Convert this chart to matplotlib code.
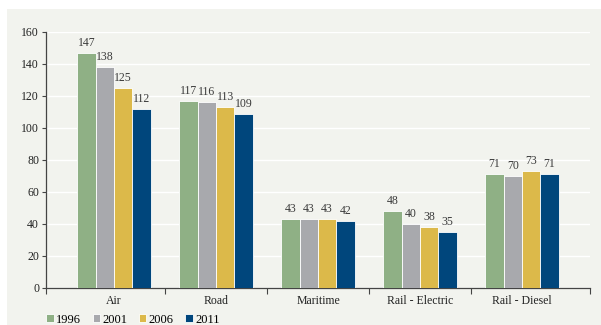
import numpy as np
import matplotlib
matplotlib.use("Agg")
import matplotlib.pyplot as plt
from matplotlib.patches import Rectangle

# data
categories = ["Air", "Road", "Maritime", "Rail - Electric", "Rail - Diesel"]
years = ["1996", "2001", "2006", "2011"]
v1996 = [147, 117, 43, 48, 71]
v2001 = [138, 116, 43, 40, 70]
v2006 = [125, 113, 43, 38, 73]
v2011 = [112, 109, 42, 35, 71]
series = [v1996, v2001, v2006, v2011]
colors = ["#8fb085", "#a8a9ad", "#dcb94a", "#00467c"]

plt.rcParams["font.family"] = ["Liberation Serif", "DejaVu Serif"]
W, H = 601, 325
fig = plt.figure(figsize=(W / 100, H / 100), dpi=100, facecolor="white")
# light grey panel behind the chart
fig.patches.append(Rectangle((7 / W, 0), 1, 1 - 9 / H, transform=fig.transFigure,
                             facecolor="#f2f3ee", edgecolor="none", zorder=-10))

ax = fig.add_axes([46 / W, (H - 288) / H, (590 - 46) / W, (288 - 32) / H])
ax.set_facecolor("none")

x = np.arange(len(categories))
bw = 0.18
for i, (vals, c) in enumerate(zip(series, colors)):
    pos = x + (i - 1.5) * bw
    ax.bar(pos, vals, bw, color=c, edgecolor="white", linewidth=0.6, label=years[i], zorder=3)
    for p, v in zip(pos, vals):
        ax.text(p, v + 2.5, str(v), ha="center", va="bottom", fontsize=8.5, color="#3a3a3a")

ax.set_ylim(0, 160)
ax.set_xlim(-0.667, 4.667)
ax.set_yticks(range(0, 161, 20))
ax.yaxis.grid(True, color="white", linewidth=1.0, zorder=0)
ax.set_axisbelow(True)

# category boundary ticks, labels centred
ax.set_xticks([-0.667, 0.5, 1.5, 2.5, 3.5, 4.667])
ax.set_xticklabels([])
ax.set_xticks(x, minor=True)
ax.set_xticklabels(categories, minor=True)
ax.tick_params(axis="x", which="minor", length=0, pad=5, labelsize=8.5, labelcolor="#222222")
ax.tick_params(axis="x", which="major", length=4, color="#444444", direction="out")
ax.tick_params(axis="y", length=3, color="#444444", labelsize=8.5, labelcolor="#222222", pad=2)

for s in ["top", "right"]:
    ax.spines[s].set_visible(False)
for s in ["left", "bottom"]:
    ax.spines[s].set_color("#444444")
    ax.spines[s].set_linewidth(0.9)

leg = fig.legend(loc="lower left", bbox_to_anchor=(35 / W, -12 / H), ncol=4, frameon=False,
                 fontsize=9, handlelength=0.6, handleheight=0.6, handletextpad=0.2,
                 columnspacing=0.9)

fig.savefig("out.png", dpi=100, facecolor=fig.get_facecolor())
